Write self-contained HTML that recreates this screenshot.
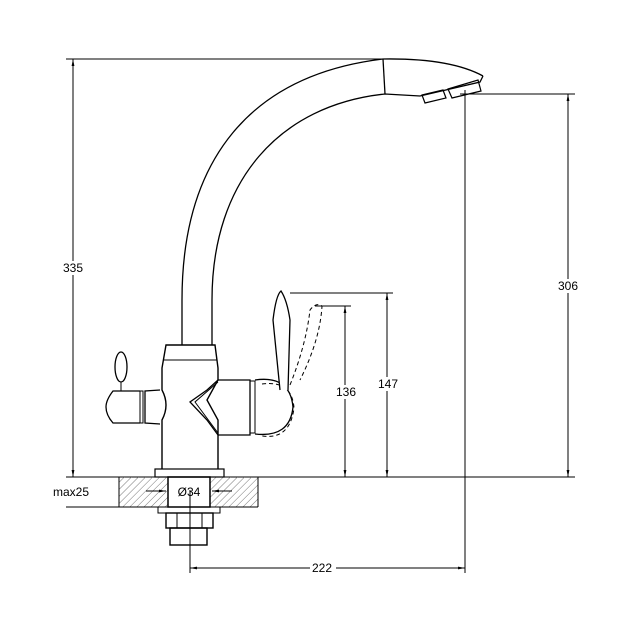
<!DOCTYPE html>
<html><head><style>html,body{margin:0;padding:0;background:#fff}svg{display:block}</style></head><body>
<svg width="640" height="640" viewBox="0 0 640 640" xmlns="http://www.w3.org/2000/svg" font-family="Liberation Sans, sans-serif">
<defs>
<pattern id="h" width="5" height="5" patternUnits="userSpaceOnUse" patternTransform="rotate(45)">
<line x1="0" y1="0" x2="0" y2="5" stroke="#555" stroke-width="0.8"/></pattern>
<marker id="a" viewBox="0 0 10 10" refX="10" refY="5" markerWidth="7" markerHeight="7" orient="auto-start-reverse"><path d="M0,3 L10,5 L0,7 z" fill="#000"/></marker>
</defs>
<g stroke="#000" stroke-width="1" fill="none">
<line x1="66" y1="59" x2="383" y2="59"/>
<line x1="73" y1="59" x2="73" y2="477" marker-start="url(#a)" marker-end="url(#a)"/>
<line x1="66" y1="477" x2="575" y2="477"/>
<line x1="66" y1="507" x2="120" y2="507"/>
<line x1="460" y1="94" x2="575" y2="94"/>
<line x1="568" y1="94" x2="568" y2="477" marker-start="url(#a)" marker-end="url(#a)"/>
<line x1="290" y1="293" x2="393" y2="293"/>
<line x1="387" y1="293" x2="387" y2="477" marker-start="url(#a)" marker-end="url(#a)"/>
<line x1="315" y1="306" x2="351" y2="306"/>
<line x1="345" y1="306" x2="345" y2="477" marker-start="url(#a)" marker-end="url(#a)"/>
<line x1="465" y1="90" x2="465" y2="573"/>
<line x1="190" y1="490" x2="190" y2="573"/>
<line x1="190" y1="568" x2="465" y2="568" marker-start="url(#a)" marker-end="url(#a)"/>
<rect x="119" y="477" width="49" height="30" fill="url(#h)" stroke="none"/>
<rect x="210" y="477" width="48" height="30" fill="url(#h)" stroke="none"/>
<line x1="119" y1="477" x2="119" y2="507"/><line x1="258" y1="477" x2="258" y2="507"/>
<line x1="119" y1="507" x2="258" y2="507"/>
<rect x="168" y="477" width="42" height="30" stroke-width="1.5"/>
<line x1="146" y1="491" x2="166" y2="491" marker-end="url(#a)"/>
<line x1="232" y1="491" x2="212" y2="491" marker-end="url(#a)"/>
<rect x="158" y="507" width="62" height="6"/>
<rect x="166" y="513" width="47" height="15" stroke-width="1.4"/>
<line x1="177" y1="513" x2="177" y2="528"/><line x1="202" y1="513" x2="202" y2="528"/>
<rect x="170" y="528" width="37" height="17" stroke-width="1.4"/>
<rect x="155" y="469" width="69" height="8" stroke-width="1.2"/>
<path d="M162,469 L162,420 Q170,405 162,390 L162,368 L166,345 L215,345 L218,368 L218,380 L207,400 L218,420 L218,469" stroke-width="1.4"/>
<line x1="163" y1="360" x2="217" y2="360"/>
<path d="M160,390 L145,391 L145,423 L160,424" stroke-width="1.3"/>
<rect x="140" y="391" width="3" height="32"/>
<path d="M140,391 L113,391 Q106,400 106,407 Q106,415 113,423 L140,423" stroke-width="1.3"/>
<ellipse cx="121" cy="367" rx="6" ry="15" stroke-width="1.3"/>
<line x1="121" y1="382" x2="121" y2="391"/>
<path d="M218,380 L250,380 L250,435 L218,435 L207,420 L190,402 L207,390 Z" stroke-width="1.3"/>
<path d="M218,382 L195,402 L218,433" />
<rect x="250" y="381" width="5" height="52"/>
<path d="M255,380 Q290,375 293,407 Q290,438 255,434" stroke-width="1.3"/>
<path d="M262,384 Q292,380 294,408 Q290,440 262,436" stroke-dasharray="4,3"/>
<path d="M280,390 L273,320 Q276,295 281,291 Q287,300 290,320 L288,390" stroke-width="1.3" fill="#fff"/>
<path d="M290,385 Q306,345 310,310 Q316,302 322,306 Q320,340 300,380" stroke-dasharray="4,3"/>
<path d="M182,345 L182,300 C182,160 250,75 383,59 Q450,58 483,76" stroke-width="1.3"/>
<path d="M212,345 L212,300 C212,180 280,105 385,94 L420,96 L480,82 L483,76" stroke-width="1.3"/>
<line x1="383" y1="59" x2="385" y2="94" stroke-width="1.3"/>
<path d="M422,95 L443,90 L446,98 L425,103 Z" stroke-width="1.2"/>
<path d="M448,89 L478,80 L481,91 L452,98 Z" stroke-width="1.2"/>
</g>
<g fill="#fff">
<rect x="60" y="261" width="26" height="14"/>
<rect x="555" y="279" width="26" height="14"/>
<rect x="335" y="385" width="22" height="14"/>
<rect x="377" y="377" width="22" height="14"/>
<rect x="310" y="561" width="26" height="14"/>
</g>
<g font-size="12" fill="#000" text-anchor="middle">
<text x="73" y="272">335</text>
<text x="568" y="290">306</text>
<text x="346" y="396">136</text>
<text x="388" y="388">147</text>
<text x="322" y="572">222</text>
<text x="71" y="496">max25</text>
<text x="189" y="496">Ø34</text>
</g>
</svg>
</body></html>
